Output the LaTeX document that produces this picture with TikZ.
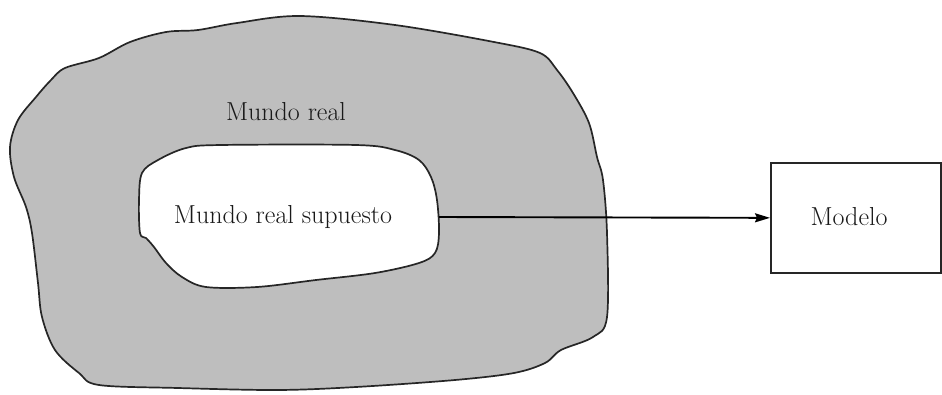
\documentclass[tikz,border=0pt]{standalone}
\usetikzlibrary{arrows.meta}
\begin{document}
\begin{tikzpicture}[x=1pt,y=-1pt,
  blob/.style={draw=black!85,line width=1.7pt,line join=round},
  lbl/.style={font=\fontsize{26}{28}\selectfont,text=black!90,inner sep=0pt},
  box/.style={draw=black!85,line width=1.7pt,minimum width=170pt,minimum height=110pt,inner sep=0pt},
  conn/.style={draw=black,line width=1.9pt,-{Stealth[length=15pt,width=9pt,inset=2pt]}}]
\useasboundingbox (0,0) rectangle (942,394);
% outer blob
\draw[blob,fill={rgb,255:red,190;green,190;blue,190}] plot[smooth cycle,tension=0.55] coordinates {
(300,16) (395,25) (494,42) (540,53) (557,70) (573,93) (589,123) (597,157) (603,180)
(607,233) (607,317) (593,337) (561,350) (545,363) (514,373) (455,380) (356,387)
(277,390) (178,388) (99,385) (79,373) (55,350) (42,317) (38,283) (32,233) (26,207)
(14,177) (10,147) (18,120) (36,97) (51,80) (65,68) (99,58) (130,42) (166,32) (198,30) (237,23)};
% inner blob
\draw[blob,fill=white] plot[smooth cycle,tension=0.55] coordinates {
(142,173) (158,160) (186,148) (221,145) (356,145) (395,150) (419,160) (431,177)
(437,200) (439,233) (435,253) (419,263) (375,273) (316,280) (257,287) (206,287)
(182,277) (166,263) (154,247) (146,238) (140,233) (139,200)};
\node[lbl] (real) at (286,112) {Mundo real};
\node[lbl] (sup) at (283,217) {Mundo real supuesto};
\coordinate (supR) at (439,217);
\node[box,anchor=north west] (modelo) at (770,162) {};
\node[lbl] (modelotxt) at (849,217) {Modelo};
\draw[conn] (supR) -- (modelo.west);
\end{tikzpicture}
\end{document}
